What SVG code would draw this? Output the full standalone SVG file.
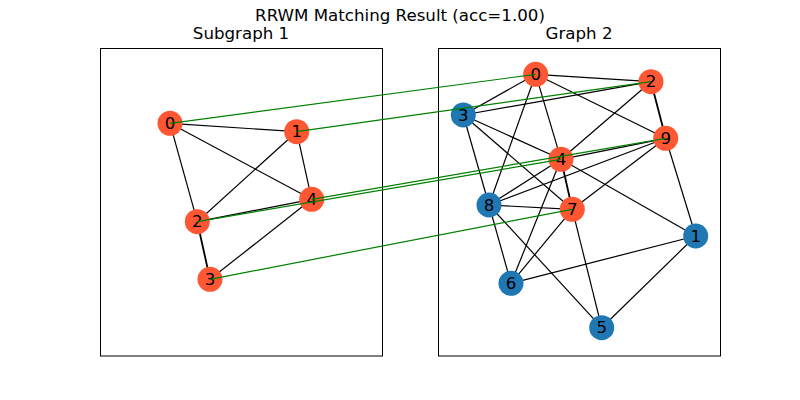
<svg xmlns="http://www.w3.org/2000/svg" width="800" height="400" viewBox="0 0 800 400">
<style>
text{font-family:"DejaVu Sans",sans-serif;fill:#000}
.t{font-size:16.67px;text-anchor:middle}
.lbl{font-size:16.67px;text-anchor:middle;dominant-baseline:central}
.frame{fill:none;stroke:#000;stroke-width:1}
.e line{stroke:#000;stroke-width:1.2}
.m line{stroke:#008000;stroke-width:1.2}
.o{fill:#ff5733}
.b{fill:#1f77b4}
</style>
<rect width="800" height="400" fill="#fff"/>
<text class="t" x="400" y="21">RRWM Matching Result (acc=1.00)</text>
<text class="t" x="241" y="39">Subgraph 1</text>
<text class="t" x="579" y="39">Graph 2</text>
<rect class="frame" x="100.5" y="48.5" width="282" height="307.5"/>
<rect class="frame" x="438.5" y="48.5" width="282" height="307.5"/>
<g id="edges" class="e">
<line x1="170" y1="123.3" x2="296.7" y2="131.7"/>
<line x1="170" y1="123.3" x2="311.7" y2="199.3"/>
<line x1="170" y1="123.3" x2="197.3" y2="221.7"/>
<line x1="296.7" y1="131.7" x2="197.3" y2="221.7"/>
<line x1="296.7" y1="131.7" x2="311.7" y2="199.3"/>
<line x1="197.3" y1="221.7" x2="311.7" y2="199.3"/>
<line x1="197.3" y1="221.7" x2="210" y2="279.3" style="stroke-width:1.8"/>
<line x1="210" y1="279.3" x2="311.7" y2="199.3"/>
<line x1="535.7" y1="74.3" x2="651" y2="81.7"/>
<line x1="535.7" y1="74.3" x2="463.3" y2="115"/>
<line x1="535.7" y1="74.3" x2="489" y2="205"/>
<line x1="535.7" y1="74.3" x2="561" y2="159.3"/>
<line x1="535.7" y1="74.3" x2="665.7" y2="138.3"/>
<line x1="651" y1="81.7" x2="463.3" y2="115"/>
<line x1="651" y1="81.7" x2="561" y2="159.3"/>
<line x1="651" y1="81.7" x2="665.7" y2="138.3" style="stroke-width:1.8"/>
<line x1="463.3" y1="115" x2="489" y2="205"/>
<line x1="463.3" y1="115" x2="561" y2="159.3"/>
<line x1="463.3" y1="115" x2="572.3" y2="209.3"/>
<line x1="665.7" y1="138.3" x2="561" y2="159.3"/>
<line x1="665.7" y1="138.3" x2="489" y2="205"/>
<line x1="665.7" y1="138.3" x2="572.3" y2="209.3"/>
<line x1="665.7" y1="138.3" x2="695.7" y2="236"/>
<line x1="561" y1="159.3" x2="489" y2="205"/>
<line x1="561" y1="159.3" x2="572.3" y2="209.3" style="stroke-width:1.8"/>
<line x1="561" y1="159.3" x2="511" y2="283.3"/>
<line x1="561" y1="159.3" x2="695.7" y2="236"/>
<line x1="489" y1="205" x2="572.3" y2="209.3"/>
<line x1="489" y1="205" x2="511" y2="283.3"/>
<line x1="489" y1="205" x2="601.7" y2="327.7"/>
<line x1="572.3" y1="209.3" x2="511" y2="283.3"/>
<line x1="572.3" y1="209.3" x2="601.7" y2="327.7"/>
<line x1="511" y1="283.3" x2="695.7" y2="236"/>
<line x1="695.7" y1="236" x2="601.7" y2="327.7"/>
</g>
<g id="g1n0"><circle class="o" cx="170" cy="123.3" r="12.5"/><text class="lbl" x="170" y="123.3">0</text></g>
<g id="g1n1"><circle class="o" cx="296.7" cy="131.7" r="12.5"/><text class="lbl" x="296.7" y="131.7">1</text></g>
<g id="g1n2"><circle class="o" cx="197.3" cy="221.7" r="12.5"/><text class="lbl" x="197.3" y="221.7">2</text></g>
<g id="g1n3"><circle class="o" cx="210" cy="279.3" r="12.5"/><text class="lbl" x="210" y="279.3">3</text></g>
<g id="g1n4"><circle class="o" cx="311.7" cy="199.3" r="12.5"/><text class="lbl" x="311.7" y="199.3">4</text></g>
<g id="g2n0"><circle class="o" cx="535.7" cy="74.3" r="12.5"/><text class="lbl" x="535.7" y="74.3">0</text></g>
<g id="g2n1"><circle class="b" cx="695.7" cy="236" r="12.5"/><text class="lbl" x="695.7" y="236">1</text></g>
<g id="g2n2"><circle class="o" cx="651" cy="81.7" r="12.5"/><text class="lbl" x="651" y="81.7">2</text></g>
<g id="g2n3"><circle class="b" cx="463.3" cy="115" r="12.5"/><text class="lbl" x="463.3" y="115">3</text></g>
<g id="g2n4"><circle class="o" cx="561" cy="159.3" r="12.5"/><text class="lbl" x="561" y="159.3">4</text></g>
<g id="g2n5"><circle class="b" cx="601.7" cy="327.7" r="12.5"/><text class="lbl" x="601.7" y="327.7">5</text></g>
<g id="g2n6"><circle class="b" cx="511" cy="283.3" r="12.5"/><text class="lbl" x="511" y="283.3">6</text></g>
<g id="g2n7"><circle class="o" cx="572.3" cy="209.3" r="12.5"/><text class="lbl" x="572.3" y="209.3">7</text></g>
<g id="g2n8"><circle class="b" cx="489" cy="205" r="12.5"/><text class="lbl" x="489" y="205">8</text></g>
<g id="g2n9"><circle class="o" cx="665.7" cy="138.3" r="12.5"/><text class="lbl" x="665.7" y="138.3">9</text></g>
<g id="matches" class="m">
<line x1="170" y1="123.3" x2="535.7" y2="74.3"/>
<line x1="296.7" y1="131.7" x2="651" y2="81.7"/>
<line x1="197.3" y1="221.7" x2="561" y2="159.3"/>
<line x1="311.7" y1="199.3" x2="665.7" y2="138.3"/>
<line x1="210" y1="279.3" x2="572.3" y2="209.3"/>
</g>
</svg>
